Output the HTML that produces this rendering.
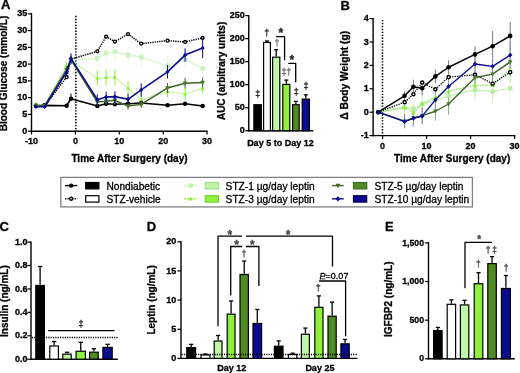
<!DOCTYPE html>
<html><head><meta charset="utf-8"><style>
html,body{margin:0;padding:0;background:#fff;}
body{width:520px;height:373px;overflow:hidden;}
svg{display:block;will-change:transform;font-family:"Liberation Sans",sans-serif;}
text{stroke-width:0.3px;stroke-linejoin:round;}
</style></head><body>
<svg width="520" height="373" viewBox="0 0 520 373">
<rect width="520" height="373" fill="#fff"/>
<text x="1.05" y="9.4" font-size="13" text-anchor="start" font-weight="bold" fill="#000" stroke="#000">A</text>
<text x="7" y="73.5" font-size="10" text-anchor="middle" font-weight="bold" fill="#000" stroke="#000" transform="rotate(-90 7 73.5)">Blood Glucose (mmol/L)</text>
<line x1="31.5" y1="13.11" x2="31.5" y2="131.9" stroke="#000" stroke-width="1.4" stroke-linecap="butt"/>
<line x1="30.8" y1="131.2" x2="207.7" y2="131.2" stroke="#000" stroke-width="1.4" stroke-linecap="butt"/>
<line x1="27.9" y1="131.2" x2="31.5" y2="131.2" stroke="#000" stroke-width="1.2" stroke-linecap="butt"/>
<text x="27.35" y="133.8" font-size="9" text-anchor="end" font-weight="bold" fill="#000" stroke="#000">0</text>
<line x1="27.9" y1="114.43" x2="31.5" y2="114.43" stroke="#000" stroke-width="1.2" stroke-linecap="butt"/>
<text x="27.35" y="117.03" font-size="9" text-anchor="end" font-weight="bold" fill="#000" stroke="#000">5</text>
<line x1="27.9" y1="97.66" x2="31.5" y2="97.66" stroke="#000" stroke-width="1.2" stroke-linecap="butt"/>
<text x="27.35" y="100.26" font-size="9" text-anchor="end" font-weight="bold" fill="#000" stroke="#000">10</text>
<line x1="27.9" y1="80.89" x2="31.5" y2="80.89" stroke="#000" stroke-width="1.2" stroke-linecap="butt"/>
<text x="27.35" y="83.49" font-size="9" text-anchor="end" font-weight="bold" fill="#000" stroke="#000">15</text>
<line x1="27.9" y1="64.12" x2="31.5" y2="64.12" stroke="#000" stroke-width="1.2" stroke-linecap="butt"/>
<text x="27.35" y="66.72" font-size="9" text-anchor="end" font-weight="bold" fill="#000" stroke="#000">20</text>
<line x1="27.9" y1="47.35" x2="31.5" y2="47.35" stroke="#000" stroke-width="1.2" stroke-linecap="butt"/>
<text x="27.35" y="49.95" font-size="9" text-anchor="end" font-weight="bold" fill="#000" stroke="#000">25</text>
<line x1="27.9" y1="30.58" x2="31.5" y2="30.58" stroke="#000" stroke-width="1.2" stroke-linecap="butt"/>
<text x="27.35" y="33.18" font-size="9" text-anchor="end" font-weight="bold" fill="#000" stroke="#000">30</text>
<line x1="27.9" y1="13.81" x2="31.5" y2="13.81" stroke="#000" stroke-width="1.2" stroke-linecap="butt"/>
<text x="27.35" y="16.41" font-size="9" text-anchor="end" font-weight="bold" fill="#000" stroke="#000">35</text>
<line x1="31.53" y1="131.2" x2="31.53" y2="134.5" stroke="#000" stroke-width="1.2" stroke-linecap="butt"/>
<text x="31.53" y="144.2" font-size="9" text-anchor="middle" font-weight="bold" fill="#000" stroke="#000">-10</text>
<line x1="75.4" y1="131.2" x2="75.4" y2="134.5" stroke="#000" stroke-width="1.2" stroke-linecap="butt"/>
<text x="75.4" y="144.2" font-size="9" text-anchor="middle" font-weight="bold" fill="#000" stroke="#000">0</text>
<line x1="119.28" y1="131.2" x2="119.28" y2="134.5" stroke="#000" stroke-width="1.2" stroke-linecap="butt"/>
<text x="119.28" y="144.2" font-size="9" text-anchor="middle" font-weight="bold" fill="#000" stroke="#000">10</text>
<line x1="163.15" y1="131.2" x2="163.15" y2="134.5" stroke="#000" stroke-width="1.2" stroke-linecap="butt"/>
<text x="163.15" y="144.2" font-size="9" text-anchor="middle" font-weight="bold" fill="#000" stroke="#000">20</text>
<line x1="207.03" y1="131.2" x2="207.03" y2="134.5" stroke="#000" stroke-width="1.2" stroke-linecap="butt"/>
<text x="207.03" y="144.2" font-size="9" text-anchor="middle" font-weight="bold" fill="#000" stroke="#000">30</text>
<text x="129.5" y="161.5" font-size="10" text-anchor="middle" font-weight="bold" fill="#000" stroke="#000">Time After Surgery (day)</text>
<line x1="75.85" y1="15.8" x2="75.85" y2="131.2" stroke="#000" stroke-width="1.6" stroke-linecap="butt" stroke-dasharray="1.4,1.55"/>
<line x1="35.91" y1="106.72" x2="35.91" y2="103.36" stroke="#e6f8de" stroke-width="1.0" stroke-linecap="butt"/>
<line x1="44.69" y1="107.05" x2="44.69" y2="103.7" stroke="#e6f8de" stroke-width="1.0" stroke-linecap="butt"/>
<line x1="66.62" y1="72.17" x2="66.62" y2="65.46" stroke="#e6f8de" stroke-width="1.0" stroke-linecap="butt"/>
<line x1="71.01" y1="64.12" x2="71.01" y2="56.07" stroke="#e6f8de" stroke-width="1.0" stroke-linecap="butt"/>
<line x1="97.34" y1="66.47" x2="97.34" y2="50.37" stroke="#e6f8de" stroke-width="1.0" stroke-linecap="butt"/>
<line x1="106.11" y1="61.77" x2="106.11" y2="44.33" stroke="#e6f8de" stroke-width="1.0" stroke-linecap="butt"/>
<line x1="114.89" y1="61.1" x2="114.89" y2="42.32" stroke="#e6f8de" stroke-width="1.0" stroke-linecap="butt"/>
<line x1="128.05" y1="63.45" x2="128.05" y2="46.68" stroke="#e6f8de" stroke-width="1.0" stroke-linecap="butt"/>
<line x1="141.21" y1="68.82" x2="141.21" y2="45.34" stroke="#e6f8de" stroke-width="1.0" stroke-linecap="butt"/>
<line x1="167.54" y1="75.86" x2="167.54" y2="55.73" stroke="#e6f8de" stroke-width="1.0" stroke-linecap="butt"/>
<line x1="185.09" y1="69.82" x2="185.09" y2="49.7" stroke="#e6f8de" stroke-width="1.0" stroke-linecap="butt"/>
<line x1="202.64" y1="77.2" x2="202.64" y2="59.76" stroke="#e6f8de" stroke-width="1.0" stroke-linecap="butt"/>
<polyline points="35.91,105.04 44.69,105.37 66.62,68.82 71.01,60.1 97.34,58.42 106.11,53.05 114.89,51.71 128.05,55.06 141.21,57.08 167.54,65.8 185.09,59.76 202.64,68.48" fill="none" stroke="#dcf5d0" stroke-width="1.4" stroke-linejoin="round"/>
<rect x="33.61" y="102.74" width="4.6" height="4.6" fill="#cdf0bc"/>
<rect x="42.39" y="103.07" width="4.6" height="4.6" fill="#cdf0bc"/>
<rect x="64.33" y="66.52" width="4.6" height="4.6" fill="#cdf0bc"/>
<rect x="68.71" y="57.8" width="4.6" height="4.6" fill="#cdf0bc"/>
<rect x="95.04" y="56.12" width="4.6" height="4.6" fill="#cdf0bc"/>
<rect x="103.81" y="50.75" width="4.6" height="4.6" fill="#cdf0bc"/>
<rect x="112.59" y="49.41" width="4.6" height="4.6" fill="#cdf0bc"/>
<rect x="125.75" y="52.76" width="4.6" height="4.6" fill="#cdf0bc"/>
<rect x="138.91" y="54.78" width="4.6" height="4.6" fill="#cdf0bc"/>
<rect x="165.24" y="63.5" width="4.6" height="4.6" fill="#cdf0bc"/>
<rect x="182.79" y="57.46" width="4.6" height="4.6" fill="#cdf0bc"/>
<rect x="200.34" y="66.18" width="4.6" height="4.6" fill="#cdf0bc"/>
<line x1="35.91" y1="106.04" x2="35.91" y2="102.69" stroke="#8ef23c" stroke-width="1.0" stroke-linecap="butt"/>
<line x1="44.69" y1="106.72" x2="44.69" y2="103.36" stroke="#8ef23c" stroke-width="1.0" stroke-linecap="butt"/>
<line x1="66.62" y1="68.82" x2="66.62" y2="62.11" stroke="#8ef23c" stroke-width="1.0" stroke-linecap="butt"/>
<line x1="71.01" y1="64.79" x2="71.01" y2="56.74" stroke="#8ef23c" stroke-width="1.0" stroke-linecap="butt"/>
<line x1="97.34" y1="85.59" x2="97.34" y2="70.83" stroke="#8ef23c" stroke-width="1.0" stroke-linecap="butt"/>
<line x1="106.11" y1="85.59" x2="106.11" y2="69.49" stroke="#8ef23c" stroke-width="1.0" stroke-linecap="butt"/>
<line x1="114.89" y1="85.59" x2="114.89" y2="68.82" stroke="#8ef23c" stroke-width="1.0" stroke-linecap="butt"/>
<line x1="128.05" y1="94.98" x2="128.05" y2="81.56" stroke="#8ef23c" stroke-width="1.0" stroke-linecap="butt"/>
<line x1="141.21" y1="106.38" x2="141.21" y2="92.96" stroke="#8ef23c" stroke-width="1.0" stroke-linecap="butt"/>
<line x1="167.54" y1="96.99" x2="167.54" y2="86.26" stroke="#8ef23c" stroke-width="1.0" stroke-linecap="butt"/>
<line x1="185.09" y1="100.01" x2="185.09" y2="87.93" stroke="#8ef23c" stroke-width="1.0" stroke-linecap="butt"/>
<line x1="202.64" y1="93.64" x2="202.64" y2="82.9" stroke="#8ef23c" stroke-width="1.0" stroke-linecap="butt"/>
<polyline points="35.91,104.37 44.69,105.04 66.62,65.46 71.01,60.77 97.34,78.21 106.11,77.54 114.89,77.2 128.05,88.27 141.21,99.67 167.54,91.62 185.09,93.97 202.64,88.27" fill="none" stroke="#bcec90" stroke-width="1.4" stroke-linejoin="round" stroke-dasharray="1.6,0.8"/>
<polygon points="35.91,102.09 33.82,105.89 38,105.89" fill="#8ef23c"/>
<polygon points="44.69,102.76 42.6,106.56 46.78,106.56" fill="#8ef23c"/>
<polygon points="66.62,63.18 64.53,66.98 68.72,66.98" fill="#8ef23c"/>
<polygon points="71.01,58.49 68.92,62.29 73.1,62.29" fill="#8ef23c"/>
<polygon points="97.34,75.93 95.25,79.73 99.43,79.73" fill="#8ef23c"/>
<polygon points="106.11,75.26 104.02,79.06 108.2,79.06" fill="#8ef23c"/>
<polygon points="114.89,74.92 112.8,78.72 116.98,78.72" fill="#8ef23c"/>
<polygon points="128.05,85.99 125.96,89.79 130.14,89.79" fill="#8ef23c"/>
<polygon points="141.21,97.39 139.12,101.19 143.3,101.19" fill="#8ef23c"/>
<polygon points="167.54,89.34 165.45,93.14 169.63,93.14" fill="#8ef23c"/>
<polygon points="185.09,91.69 183,95.49 187.18,95.49" fill="#8ef23c"/>
<polygon points="202.64,85.99 200.55,89.79 204.73,89.79" fill="#8ef23c"/>
<polyline points="35.91,106.04 44.69,106.04 66.62,77.2 71.01,59.09 97.34,51.37 106.11,36.62 114.89,41.65 128.05,34.1 141.21,43.66 167.54,40.64 185.09,41.98 202.64,37.96" fill="none" stroke="#000" stroke-width="1.5" stroke-linejoin="round" stroke-dasharray="1.3,1.0"/>
<circle cx="66.62" cy="77.2" r="1.46" fill="#fff" stroke="#000" stroke-width="1.33"/>
<circle cx="97.34" cy="51.37" r="1.46" fill="#fff" stroke="#000" stroke-width="1.33"/>
<circle cx="106.11" cy="36.62" r="1.46" fill="#fff" stroke="#000" stroke-width="1.33"/>
<circle cx="114.89" cy="41.65" r="1.46" fill="#fff" stroke="#000" stroke-width="1.33"/>
<circle cx="128.05" cy="34.1" r="1.46" fill="#fff" stroke="#000" stroke-width="1.33"/>
<circle cx="141.21" cy="43.66" r="1.46" fill="#fff" stroke="#000" stroke-width="1.33"/>
<circle cx="167.54" cy="40.64" r="1.46" fill="#fff" stroke="#000" stroke-width="1.33"/>
<circle cx="185.09" cy="41.98" r="1.46" fill="#fff" stroke="#000" stroke-width="1.33"/>
<circle cx="202.64" cy="37.96" r="1.46" fill="#fff" stroke="#000" stroke-width="1.33"/>
<polyline points="35.91,105.71 44.69,105.37 66.62,105.71 71.01,98.67 97.34,106.04 106.11,103.7 114.89,104.2 128.05,103.7 141.21,103.03 167.54,105.21 185.09,103.7 202.64,106.04" fill="none" stroke="#000" stroke-width="1.6" stroke-linejoin="round"/>
<line x1="71.01" y1="98.67" x2="71.01" y2="93.64" stroke="#000" stroke-width="1.0" stroke-linecap="butt"/>
<circle cx="35.91" cy="105.71" r="2.25" fill="#000"/>
<circle cx="44.69" cy="105.37" r="2.25" fill="#000"/>
<circle cx="66.62" cy="105.71" r="2.25" fill="#000"/>
<circle cx="71.01" cy="98.67" r="2.25" fill="#000"/>
<circle cx="97.34" cy="106.04" r="2.25" fill="#000"/>
<circle cx="106.11" cy="103.7" r="2.25" fill="#000"/>
<circle cx="114.89" cy="104.2" r="2.25" fill="#000"/>
<circle cx="128.05" cy="103.7" r="2.25" fill="#000"/>
<circle cx="141.21" cy="103.03" r="2.25" fill="#000"/>
<circle cx="167.54" cy="105.21" r="2.25" fill="#000"/>
<circle cx="185.09" cy="103.7" r="2.25" fill="#000"/>
<circle cx="202.64" cy="106.04" r="2.25" fill="#000"/>
<line x1="35.91" y1="107.05" x2="35.91" y2="104.37" stroke="#4d5e42" stroke-width="1.0" stroke-linecap="butt"/>
<line x1="44.69" y1="107.05" x2="44.69" y2="104.37" stroke="#4d5e42" stroke-width="1.0" stroke-linecap="butt"/>
<line x1="66.62" y1="72.84" x2="66.62" y2="66.13" stroke="#4d5e42" stroke-width="1.0" stroke-linecap="butt"/>
<line x1="71.01" y1="63.78" x2="71.01" y2="55.73" stroke="#4d5e42" stroke-width="1.0" stroke-linecap="butt"/>
<line x1="97.34" y1="105.37" x2="97.34" y2="98.67" stroke="#4d5e42" stroke-width="1.0" stroke-linecap="butt"/>
<line x1="106.11" y1="104.7" x2="106.11" y2="98" stroke="#4d5e42" stroke-width="1.0" stroke-linecap="butt"/>
<line x1="114.89" y1="104.37" x2="114.89" y2="96.32" stroke="#4d5e42" stroke-width="1.0" stroke-linecap="butt"/>
<line x1="128.05" y1="109.4" x2="128.05" y2="102.69" stroke="#4d5e42" stroke-width="1.0" stroke-linecap="butt"/>
<line x1="141.21" y1="107.72" x2="141.21" y2="101.01" stroke="#4d5e42" stroke-width="1.0" stroke-linecap="butt"/>
<line x1="167.54" y1="92.96" x2="167.54" y2="82.9" stroke="#4d5e42" stroke-width="1.0" stroke-linecap="butt"/>
<line x1="185.09" y1="88.6" x2="185.09" y2="77.87" stroke="#4d5e42" stroke-width="1.0" stroke-linecap="butt"/>
<line x1="202.64" y1="87.6" x2="202.64" y2="77.54" stroke="#4d5e42" stroke-width="1.0" stroke-linecap="butt"/>
<polyline points="35.91,105.71 44.69,105.71 66.62,69.49 71.01,59.76 97.34,102.02 106.11,101.35 114.89,100.34 128.05,106.04 141.21,104.37 167.54,87.93 185.09,83.24 202.64,82.57" fill="none" stroke="#3f6329" stroke-width="1.5" stroke-linejoin="round"/>
<polygon points="35.91,108.35 33.49,103.95 38.33,103.95" fill="#4a7a2a"/>
<polygon points="44.69,108.35 42.27,103.95 47.11,103.95" fill="#4a7a2a"/>
<polygon points="66.62,72.13 64.2,67.73 69.05,67.73" fill="#4a7a2a"/>
<polygon points="71.01,62.4 68.59,58 73.43,58" fill="#4a7a2a"/>
<polygon points="97.34,104.66 94.92,100.26 99.76,100.26" fill="#4a7a2a"/>
<polygon points="106.11,103.99 103.69,99.59 108.53,99.59" fill="#4a7a2a"/>
<polygon points="114.89,102.98 112.47,98.58 117.31,98.58" fill="#4a7a2a"/>
<polygon points="128.05,108.68 125.63,104.28 130.47,104.28" fill="#4a7a2a"/>
<polygon points="141.21,107.01 138.79,102.61 143.63,102.61" fill="#4a7a2a"/>
<polygon points="167.54,90.57 165.12,86.17 169.96,86.17" fill="#4a7a2a"/>
<polygon points="185.09,85.88 182.67,81.48 187.51,81.48" fill="#4a7a2a"/>
<polygon points="202.64,85.21 200.22,80.81 205.06,80.81" fill="#4a7a2a"/>
<line x1="35.91" y1="108.06" x2="35.91" y2="105.37" stroke="#0b0b8f" stroke-width="1.0" stroke-linecap="butt"/>
<line x1="44.69" y1="108.06" x2="44.69" y2="105.37" stroke="#0b0b8f" stroke-width="1.0" stroke-linecap="butt"/>
<line x1="66.62" y1="75.52" x2="66.62" y2="68.82" stroke="#0b0b8f" stroke-width="1.0" stroke-linecap="butt"/>
<line x1="71.01" y1="63.45" x2="71.01" y2="53.39" stroke="#0b0b8f" stroke-width="1.0" stroke-linecap="butt"/>
<line x1="97.34" y1="105.04" x2="97.34" y2="94.31" stroke="#0b0b8f" stroke-width="1.0" stroke-linecap="butt"/>
<line x1="106.11" y1="102.36" x2="106.11" y2="91.62" stroke="#0b0b8f" stroke-width="1.0" stroke-linecap="butt"/>
<line x1="114.89" y1="102.02" x2="114.89" y2="91.29" stroke="#0b0b8f" stroke-width="1.0" stroke-linecap="butt"/>
<line x1="128.05" y1="104.7" x2="128.05" y2="93.97" stroke="#0b0b8f" stroke-width="1.0" stroke-linecap="butt"/>
<line x1="141.21" y1="96.65" x2="141.21" y2="83.24" stroke="#0b0b8f" stroke-width="1.0" stroke-linecap="butt"/>
<line x1="167.54" y1="78.54" x2="167.54" y2="65.13" stroke="#0b0b8f" stroke-width="1.0" stroke-linecap="butt"/>
<line x1="185.09" y1="61.77" x2="185.09" y2="48.36" stroke="#0b0b8f" stroke-width="1.0" stroke-linecap="butt"/>
<line x1="202.64" y1="58.08" x2="202.64" y2="37.96" stroke="#0b0b8f" stroke-width="1.0" stroke-linecap="butt"/>
<polyline points="35.91,106.72 44.69,106.72 66.62,72.17 71.01,58.42 97.34,99.67 106.11,96.99 114.89,96.65 128.05,99.34 141.21,89.95 167.54,71.83 185.09,55.06 202.64,48.02" fill="none" stroke="#0b0b8f" stroke-width="1.6" stroke-linejoin="round"/>
<polygon points="35.91,104.44 38,106.72 35.91,109 33.82,106.72" fill="#0b0b8f"/>
<polygon points="44.69,104.44 46.78,106.72 44.69,109 42.6,106.72" fill="#0b0b8f"/>
<polygon points="66.62,69.89 68.72,72.17 66.62,74.45 64.53,72.17" fill="#0b0b8f"/>
<polygon points="71.01,56.14 73.1,58.42 71.01,60.7 68.92,58.42" fill="#0b0b8f"/>
<polygon points="97.34,97.39 99.43,99.67 97.34,101.95 95.25,99.67" fill="#0b0b8f"/>
<polygon points="106.11,94.71 108.2,96.99 106.11,99.27 104.02,96.99" fill="#0b0b8f"/>
<polygon points="114.89,94.37 116.98,96.65 114.89,98.93 112.8,96.65" fill="#0b0b8f"/>
<polygon points="128.05,97.06 130.14,99.34 128.05,101.62 125.96,99.34" fill="#0b0b8f"/>
<polygon points="141.21,87.67 143.3,89.95 141.21,92.23 139.12,89.95" fill="#0b0b8f"/>
<polygon points="167.54,69.55 169.63,71.83 167.54,74.11 165.45,71.83" fill="#0b0b8f"/>
<polygon points="185.09,52.78 187.18,55.06 185.09,57.34 183,55.06" fill="#0b0b8f"/>
<polygon points="202.64,45.74 204.73,48.02 202.64,50.3 200.55,48.02" fill="#0b0b8f"/>
<text x="225.2" y="70.9" font-size="10" text-anchor="middle" font-weight="bold" fill="#000" stroke="#000" transform="rotate(-90 225.2 70.9)">AUC (arbitrary units)</text>
<line x1="248.75" y1="14.9" x2="248.75" y2="131.45" stroke="#000" stroke-width="1.4" stroke-linecap="butt"/>
<line x1="248.05" y1="130.75" x2="313.3" y2="130.75" stroke="#000" stroke-width="1.4" stroke-linecap="butt"/>
<line x1="245.15" y1="130.75" x2="248.75" y2="130.75" stroke="#000" stroke-width="1.2" stroke-linecap="butt"/>
<text x="244.8" y="133.35" font-size="9" text-anchor="end" font-weight="bold" fill="#000" stroke="#000">0</text>
<line x1="245.15" y1="107.72" x2="248.75" y2="107.72" stroke="#000" stroke-width="1.2" stroke-linecap="butt"/>
<text x="244.8" y="110.32" font-size="9" text-anchor="end" font-weight="bold" fill="#000" stroke="#000">50</text>
<line x1="245.15" y1="84.69" x2="248.75" y2="84.69" stroke="#000" stroke-width="1.2" stroke-linecap="butt"/>
<text x="244.8" y="87.29" font-size="9" text-anchor="end" font-weight="bold" fill="#000" stroke="#000">100</text>
<line x1="245.15" y1="61.66" x2="248.75" y2="61.66" stroke="#000" stroke-width="1.2" stroke-linecap="butt"/>
<text x="244.8" y="64.26" font-size="9" text-anchor="end" font-weight="bold" fill="#000" stroke="#000">150</text>
<line x1="245.15" y1="38.63" x2="248.75" y2="38.63" stroke="#000" stroke-width="1.2" stroke-linecap="butt"/>
<text x="244.8" y="41.23" font-size="9" text-anchor="end" font-weight="bold" fill="#000" stroke="#000">200</text>
<line x1="245.15" y1="15.6" x2="248.75" y2="15.6" stroke="#000" stroke-width="1.2" stroke-linecap="butt"/>
<text x="244.8" y="18.2" font-size="9" text-anchor="end" font-weight="bold" fill="#000" stroke="#000">250</text>
<text x="280.4" y="145.5" font-size="9" text-anchor="middle" font-weight="bold" fill="#000" stroke="#000">Day 5 to Day 12</text>
<rect x="253.9" y="104.73" width="7.4" height="26.02" fill="#000" stroke="#000" stroke-width="1.2"/>
<line x1="267" y1="41.85" x2="267" y2="40.93" stroke="#000" stroke-width="1.3" stroke-linecap="butt"/>
<line x1="265" y1="40.93" x2="269" y2="40.93" stroke="#000" stroke-width="1.3" stroke-linecap="butt"/>
<rect x="263.6" y="42.45" width="6.8" height="88.3" fill="#fff" stroke="#000" stroke-width="1.2"/>
<line x1="276.2" y1="56.59" x2="276.2" y2="49.68" stroke="#000" stroke-width="1.3" stroke-linecap="butt"/>
<line x1="274.2" y1="49.68" x2="278.2" y2="49.68" stroke="#000" stroke-width="1.3" stroke-linecap="butt"/>
<rect x="272.6" y="57.19" width="7.2" height="73.56" fill="#c0f7a6" stroke="#000" stroke-width="1.2"/>
<line x1="286.3" y1="83.77" x2="286.3" y2="80.08" stroke="#000" stroke-width="1.3" stroke-linecap="butt"/>
<line x1="284.3" y1="80.08" x2="288.3" y2="80.08" stroke="#000" stroke-width="1.3" stroke-linecap="butt"/>
<rect x="282.8" y="84.37" width="7" height="46.38" fill="#8ef23c" stroke="#000" stroke-width="1.2"/>
<line x1="295.9" y1="104.13" x2="295.9" y2="101.36" stroke="#000" stroke-width="1.3" stroke-linecap="butt"/>
<line x1="293.9" y1="101.36" x2="297.9" y2="101.36" stroke="#000" stroke-width="1.3" stroke-linecap="butt"/>
<rect x="292.6" y="104.73" width="6.6" height="26.02" fill="#4f8a22" stroke="#000" stroke-width="1.2"/>
<line x1="305.8" y1="98.51" x2="305.8" y2="94.82" stroke="#000" stroke-width="1.3" stroke-linecap="butt"/>
<line x1="303.8" y1="94.82" x2="307.8" y2="94.82" stroke="#000" stroke-width="1.3" stroke-linecap="butt"/>
<rect x="302.2" y="99.11" width="7.2" height="31.64" fill="#0b0b8f" stroke="#000" stroke-width="1.2"/>
<text x="257.8" y="97.33" font-size="9" text-anchor="middle" font-weight="normal" fill="#222" stroke="#222">&#8225;</text>
<text x="266.8" y="35.52" font-size="9" text-anchor="middle" font-weight="normal" fill="#222" stroke="#222">&#8224;</text>
<text x="276.9" y="46.23" font-size="9" text-anchor="middle" font-weight="normal" fill="#777" stroke="#777">&#8224;</text>
<text x="284" y="74.73" font-size="9" text-anchor="middle" font-weight="normal" fill="#666" stroke="#666">&#8225;</text>
<text x="288.7" y="74.73" font-size="9" text-anchor="middle" font-weight="normal" fill="#666" stroke="#666">&#8224;</text>
<text x="296.2" y="95.23" font-size="9" text-anchor="middle" font-weight="normal" fill="#222" stroke="#222">&#8225;</text>
<text x="306.1" y="88.73" font-size="9" text-anchor="middle" font-weight="normal" fill="#222" stroke="#222">&#8225;</text>
<polyline points="276.1,36.6 284.6,36.6 284.6,60.2" fill="none" stroke="#000" stroke-width="1.3" stroke-linejoin="round"/>
<text x="280.8" y="36.52" font-size="12" text-anchor="middle" font-weight="bold" fill="#222" stroke="#222">*</text>
<polyline points="288.2,63.4 295.7,63.4 295.7,82.2" fill="none" stroke="#000" stroke-width="1.3" stroke-linejoin="round"/>
<text x="291.9" y="63.72" font-size="12" text-anchor="middle" font-weight="bold" fill="#222" stroke="#222">*</text>
<text x="340.4" y="9.8" font-size="13" text-anchor="start" font-weight="bold" fill="#000" stroke="#000">B</text>
<text x="348.5" y="75.3" font-size="10.3" text-anchor="middle" font-weight="bold" fill="#000" stroke="#000" transform="rotate(-90 348.5 75.3)">&#916; Body Weight (g)</text>
<line x1="373.1" y1="17.9" x2="373.1" y2="136.3" stroke="#000" stroke-width="1.4" stroke-linecap="butt"/>
<line x1="372.4" y1="135.6" x2="515.4" y2="135.6" stroke="#000" stroke-width="1.4" stroke-linecap="butt"/>
<line x1="369.5" y1="135.6" x2="373.1" y2="135.6" stroke="#000" stroke-width="1.2" stroke-linecap="butt"/>
<text x="368.8" y="138.2" font-size="9" text-anchor="end" font-weight="bold" fill="#000" stroke="#000">-1</text>
<line x1="369.5" y1="112.2" x2="373.1" y2="112.2" stroke="#000" stroke-width="1.2" stroke-linecap="butt"/>
<text x="368.8" y="114.8" font-size="9" text-anchor="end" font-weight="bold" fill="#000" stroke="#000">0</text>
<line x1="369.5" y1="88.8" x2="373.1" y2="88.8" stroke="#000" stroke-width="1.2" stroke-linecap="butt"/>
<text x="368.8" y="91.4" font-size="9" text-anchor="end" font-weight="bold" fill="#000" stroke="#000">1</text>
<line x1="369.5" y1="65.4" x2="373.1" y2="65.4" stroke="#000" stroke-width="1.2" stroke-linecap="butt"/>
<text x="368.8" y="68" font-size="9" text-anchor="end" font-weight="bold" fill="#000" stroke="#000">2</text>
<line x1="369.5" y1="42" x2="373.1" y2="42" stroke="#000" stroke-width="1.2" stroke-linecap="butt"/>
<text x="368.8" y="44.6" font-size="9" text-anchor="end" font-weight="bold" fill="#000" stroke="#000">3</text>
<line x1="369.5" y1="18.6" x2="373.1" y2="18.6" stroke="#000" stroke-width="1.2" stroke-linecap="butt"/>
<text x="368.8" y="21.2" font-size="9" text-anchor="end" font-weight="bold" fill="#000" stroke="#000">4</text>
<line x1="382.6" y1="135.6" x2="382.6" y2="138.9" stroke="#000" stroke-width="1.2" stroke-linecap="butt"/>
<text x="382.6" y="148.5" font-size="9" text-anchor="middle" font-weight="bold" fill="#000" stroke="#000">0</text>
<line x1="426.6" y1="135.6" x2="426.6" y2="138.9" stroke="#000" stroke-width="1.2" stroke-linecap="butt"/>
<text x="426.6" y="148.5" font-size="9" text-anchor="middle" font-weight="bold" fill="#000" stroke="#000">10</text>
<line x1="470.6" y1="135.6" x2="470.6" y2="138.9" stroke="#000" stroke-width="1.2" stroke-linecap="butt"/>
<text x="470.6" y="148.5" font-size="9" text-anchor="middle" font-weight="bold" fill="#000" stroke="#000">20</text>
<line x1="514.6" y1="135.6" x2="514.6" y2="138.9" stroke="#000" stroke-width="1.2" stroke-linecap="butt"/>
<text x="514.6" y="148.5" font-size="9" text-anchor="middle" font-weight="bold" fill="#000" stroke="#000">30</text>
<text x="452.2" y="162.3" font-size="10" text-anchor="middle" font-weight="bold" fill="#000" stroke="#000">Time After Surgery (day)</text>
<line x1="382.5" y1="19.9" x2="382.5" y2="135.6" stroke="#000" stroke-width="1.6" stroke-linecap="butt" stroke-dasharray="1.4,1.55"/>
<line x1="404.6" y1="114.54" x2="404.6" y2="100.5" stroke="#e6f8de" stroke-width="0.9" stroke-linecap="butt"/>
<line x1="413.4" y1="116.88" x2="413.4" y2="100.5" stroke="#e6f8de" stroke-width="0.9" stroke-linecap="butt"/>
<line x1="422.2" y1="112.2" x2="422.2" y2="95.82" stroke="#e6f8de" stroke-width="0.9" stroke-linecap="butt"/>
<line x1="435.4" y1="109.86" x2="435.4" y2="91.14" stroke="#e6f8de" stroke-width="0.9" stroke-linecap="butt"/>
<line x1="448.6" y1="106.35" x2="448.6" y2="85.29" stroke="#e6f8de" stroke-width="0.9" stroke-linecap="butt"/>
<line x1="475" y1="101.67" x2="475" y2="78.27" stroke="#e6f8de" stroke-width="0.9" stroke-linecap="butt"/>
<line x1="492.6" y1="104.48" x2="492.6" y2="78.74" stroke="#e6f8de" stroke-width="0.9" stroke-linecap="butt"/>
<line x1="510.2" y1="102.37" x2="510.2" y2="74.29" stroke="#e6f8de" stroke-width="0.9" stroke-linecap="butt"/>
<line x1="404.6" y1="114.54" x2="404.6" y2="100.5" stroke="#bfeea0" stroke-width="0.9" stroke-linecap="butt"/>
<line x1="413.4" y1="121.09" x2="413.4" y2="104.71" stroke="#bfeea0" stroke-width="0.9" stroke-linecap="butt"/>
<line x1="422.2" y1="111.97" x2="422.2" y2="95.59" stroke="#bfeea0" stroke-width="0.9" stroke-linecap="butt"/>
<line x1="435.4" y1="106.35" x2="435.4" y2="87.63" stroke="#bfeea0" stroke-width="0.9" stroke-linecap="butt"/>
<line x1="448.6" y1="101.67" x2="448.6" y2="80.61" stroke="#bfeea0" stroke-width="0.9" stroke-linecap="butt"/>
<line x1="475" y1="96.99" x2="475" y2="73.59" stroke="#bfeea0" stroke-width="0.9" stroke-linecap="butt"/>
<line x1="492.6" y1="98.16" x2="492.6" y2="72.42" stroke="#bfeea0" stroke-width="0.9" stroke-linecap="butt"/>
<line x1="510.2" y1="83.42" x2="510.2" y2="55.34" stroke="#bfeea0" stroke-width="0.9" stroke-linecap="butt"/>
<line x1="404.6" y1="128.11" x2="404.6" y2="114.07" stroke="#7c9868" stroke-width="0.9" stroke-linecap="butt"/>
<line x1="413.4" y1="126.24" x2="413.4" y2="109.86" stroke="#7c9868" stroke-width="0.9" stroke-linecap="butt"/>
<line x1="422.2" y1="123.9" x2="422.2" y2="107.52" stroke="#7c9868" stroke-width="0.9" stroke-linecap="butt"/>
<line x1="435.4" y1="120.62" x2="435.4" y2="101.9" stroke="#7c9868" stroke-width="0.9" stroke-linecap="butt"/>
<line x1="448.6" y1="114.54" x2="448.6" y2="93.48" stroke="#7c9868" stroke-width="0.9" stroke-linecap="butt"/>
<line x1="475" y1="89.5" x2="475" y2="66.1" stroke="#7c9868" stroke-width="0.9" stroke-linecap="butt"/>
<line x1="492.6" y1="86.93" x2="492.6" y2="61.19" stroke="#7c9868" stroke-width="0.9" stroke-linecap="butt"/>
<line x1="510.2" y1="75.93" x2="510.2" y2="47.85" stroke="#7c9868" stroke-width="0.9" stroke-linecap="butt"/>
<line x1="404.6" y1="100.5" x2="404.6" y2="91.14" stroke="#6a6a6a" stroke-width="0.9" stroke-linecap="butt"/>
<line x1="413.4" y1="93.71" x2="413.4" y2="79.67" stroke="#6a6a6a" stroke-width="0.9" stroke-linecap="butt"/>
<line x1="422.2" y1="95.35" x2="422.2" y2="81.31" stroke="#6a6a6a" stroke-width="0.9" stroke-linecap="butt"/>
<line x1="435.4" y1="83.42" x2="435.4" y2="69.38" stroke="#6a6a6a" stroke-width="0.9" stroke-linecap="butt"/>
<line x1="448.6" y1="74.29" x2="448.6" y2="60.25" stroke="#6a6a6a" stroke-width="0.9" stroke-linecap="butt"/>
<line x1="475" y1="62.59" x2="475" y2="46.21" stroke="#6a6a6a" stroke-width="0.9" stroke-linecap="butt"/>
<line x1="492.6" y1="61.42" x2="492.6" y2="31" stroke="#6a6a6a" stroke-width="0.9" stroke-linecap="butt"/>
<line x1="510.2" y1="49.96" x2="510.2" y2="21.88" stroke="#6a6a6a" stroke-width="0.9" stroke-linecap="butt"/>
<line x1="404.6" y1="128.58" x2="404.6" y2="114.54" stroke="#8a8ac8" stroke-width="0.9" stroke-linecap="butt"/>
<line x1="413.4" y1="126.47" x2="413.4" y2="110.09" stroke="#8a8ac8" stroke-width="0.9" stroke-linecap="butt"/>
<line x1="422.2" y1="124.37" x2="422.2" y2="107.99" stroke="#8a8ac8" stroke-width="0.9" stroke-linecap="butt"/>
<line x1="435.4" y1="109.16" x2="435.4" y2="90.44" stroke="#8a8ac8" stroke-width="0.9" stroke-linecap="butt"/>
<line x1="448.6" y1="96.99" x2="448.6" y2="75.93" stroke="#8a8ac8" stroke-width="0.9" stroke-linecap="butt"/>
<line x1="475" y1="75.7" x2="475" y2="52.3" stroke="#8a8ac8" stroke-width="0.9" stroke-linecap="butt"/>
<line x1="492.6" y1="79.21" x2="492.6" y2="53.47" stroke="#8a8ac8" stroke-width="0.9" stroke-linecap="butt"/>
<line x1="510.2" y1="69.14" x2="510.2" y2="41.06" stroke="#8a8ac8" stroke-width="0.9" stroke-linecap="butt"/>
<polyline points="378.2,112.2 404.6,107.52 413.4,108.69 422.2,104.01 435.4,100.5 448.6,95.82 475,89.97 492.6,91.61 510.2,88.33" fill="none" stroke="#c8f0b4" stroke-width="1.4" stroke-linejoin="round"/>
<rect x="376.1" y="110.1" width="4.2" height="4.2" fill="#b8ec9e"/>
<rect x="402.5" y="105.42" width="4.2" height="4.2" fill="#b8ec9e"/>
<rect x="411.3" y="106.59" width="4.2" height="4.2" fill="#b8ec9e"/>
<rect x="420.1" y="101.91" width="4.2" height="4.2" fill="#b8ec9e"/>
<rect x="433.3" y="98.4" width="4.2" height="4.2" fill="#b8ec9e"/>
<rect x="446.5" y="93.72" width="4.2" height="4.2" fill="#b8ec9e"/>
<rect x="472.9" y="87.87" width="4.2" height="4.2" fill="#b8ec9e"/>
<rect x="490.5" y="89.51" width="4.2" height="4.2" fill="#b8ec9e"/>
<rect x="508.1" y="86.23" width="4.2" height="4.2" fill="#b8ec9e"/>
<polyline points="378.2,112.2 404.6,107.52 413.4,112.9 422.2,103.78 435.4,96.99 448.6,91.14 475,85.29 492.6,85.29 510.2,69.38" fill="none" stroke="#a4e872" stroke-width="1.3" stroke-linejoin="round" stroke-dasharray="1.6,0.8"/>
<polygon points="378.2,109.8 376,113.8 380.4,113.8" fill="#8ef23c"/>
<polygon points="404.6,105.12 402.4,109.12 406.8,109.12" fill="#8ef23c"/>
<polygon points="413.4,110.5 411.2,114.5 415.6,114.5" fill="#8ef23c"/>
<polygon points="422.2,101.38 420,105.38 424.4,105.38" fill="#8ef23c"/>
<polygon points="435.4,94.59 433.2,98.59 437.6,98.59" fill="#8ef23c"/>
<polygon points="448.6,88.74 446.4,92.74 450.8,92.74" fill="#8ef23c"/>
<polygon points="475,82.89 472.8,86.89 477.2,86.89" fill="#8ef23c"/>
<polygon points="492.6,82.89 490.4,86.89 494.8,86.89" fill="#8ef23c"/>
<polygon points="510.2,66.98 508,70.98 512.4,70.98" fill="#8ef23c"/>
<polyline points="378.2,112.2 404.6,102.14 413.4,94.18 422.2,82.48 435.4,89.27 448.6,77.1 475,74.76 492.6,83.65 510.2,72.19" fill="none" stroke="#000" stroke-width="1.3" stroke-linejoin="round" stroke-dasharray="1.3,1.1"/>
<circle cx="404.6" cy="102.14" r="1.56" fill="#fff" stroke="#000" stroke-width="1.43"/>
<circle cx="413.4" cy="94.18" r="1.56" fill="#fff" stroke="#000" stroke-width="1.43"/>
<circle cx="422.2" cy="82.48" r="1.56" fill="#fff" stroke="#000" stroke-width="1.43"/>
<circle cx="435.4" cy="89.27" r="1.56" fill="#fff" stroke="#000" stroke-width="1.43"/>
<circle cx="448.6" cy="77.1" r="1.56" fill="#fff" stroke="#000" stroke-width="1.43"/>
<circle cx="475" cy="74.76" r="1.56" fill="#fff" stroke="#000" stroke-width="1.43"/>
<circle cx="492.6" cy="83.65" r="1.56" fill="#fff" stroke="#000" stroke-width="1.43"/>
<circle cx="510.2" cy="72.19" r="1.56" fill="#fff" stroke="#000" stroke-width="1.43"/>
<polyline points="378.2,112.2 404.6,121.09 413.4,118.05 422.2,115.71 435.4,111.26 448.6,104.01 475,77.8 492.6,74.06 510.2,61.89" fill="none" stroke="#3f6329" stroke-width="1.4" stroke-linejoin="round"/>
<polygon points="378.2,114.72 375.89,110.52 380.51,110.52" fill="#4a7a2a"/>
<polygon points="404.6,123.61 402.29,119.41 406.91,119.41" fill="#4a7a2a"/>
<polygon points="413.4,120.57 411.09,116.37 415.71,116.37" fill="#4a7a2a"/>
<polygon points="422.2,118.23 419.89,114.03 424.51,114.03" fill="#4a7a2a"/>
<polygon points="435.4,113.78 433.09,109.58 437.71,109.58" fill="#4a7a2a"/>
<polygon points="448.6,106.53 446.29,102.33 450.91,102.33" fill="#4a7a2a"/>
<polygon points="475,80.32 472.69,76.12 477.31,76.12" fill="#4a7a2a"/>
<polygon points="492.6,76.58 490.29,72.38 494.91,72.38" fill="#4a7a2a"/>
<polygon points="510.2,64.41 507.89,60.21 512.51,60.21" fill="#4a7a2a"/>
<polyline points="378.2,112.2 404.6,95.82 413.4,86.69 422.2,88.33 435.4,76.4 448.6,67.27 475,54.4 492.6,46.21 510.2,35.92" fill="none" stroke="#000" stroke-width="1.45" stroke-linejoin="round"/>
<circle cx="378.2" cy="112.2" r="2.3" fill="#000"/>
<circle cx="404.6" cy="95.82" r="2.3" fill="#000"/>
<circle cx="413.4" cy="86.69" r="2.3" fill="#000"/>
<circle cx="422.2" cy="88.33" r="2.3" fill="#000"/>
<circle cx="435.4" cy="76.4" r="2.3" fill="#000"/>
<circle cx="448.6" cy="67.27" r="2.3" fill="#000"/>
<circle cx="475" cy="54.4" r="2.3" fill="#000"/>
<circle cx="492.6" cy="46.21" r="2.3" fill="#000"/>
<circle cx="510.2" cy="35.92" r="2.3" fill="#000"/>
<polyline points="378.2,112.2 404.6,121.56 413.4,118.28 422.2,116.18 435.4,99.8 448.6,86.46 475,64 492.6,66.34 510.2,55.1" fill="none" stroke="#0b0b8f" stroke-width="1.35" stroke-linejoin="round"/>
<polygon points="378.2,109.8 380.4,112.2 378.2,114.6 376,112.2" fill="#0b0b8f"/>
<polygon points="404.6,119.16 406.8,121.56 404.6,123.96 402.4,121.56" fill="#0b0b8f"/>
<polygon points="413.4,115.88 415.6,118.28 413.4,120.68 411.2,118.28" fill="#0b0b8f"/>
<polygon points="422.2,113.78 424.4,116.18 422.2,118.58 420,116.18" fill="#0b0b8f"/>
<polygon points="435.4,97.4 437.6,99.8 435.4,102.2 433.2,99.8" fill="#0b0b8f"/>
<polygon points="448.6,84.06 450.8,86.46 448.6,88.86 446.4,86.46" fill="#0b0b8f"/>
<polygon points="475,61.6 477.2,64 475,66.4 472.8,64" fill="#0b0b8f"/>
<polygon points="492.6,63.94 494.8,66.34 492.6,68.74 490.4,66.34" fill="#0b0b8f"/>
<polygon points="510.2,52.7 512.4,55.1 510.2,57.5 508,55.1" fill="#0b0b8f"/>
<rect x="60.8" y="177.4" width="411.6" height="29.5" fill="#fff" stroke="#808080" stroke-width="1.3"/>
<line x1="65" y1="185.6" x2="77.3" y2="185.6" stroke="#000" stroke-width="1.4" stroke-linecap="butt"/>
<circle cx="71.15" cy="185.6" r="2.2" fill="#000"/>
<rect x="85.7" y="182.5" width="13.2" height="6.4" fill="#000" stroke="#000" stroke-width="1.2"/>
<text x="106.4" y="189.7" font-size="10.2" text-anchor="start" font-weight="normal" fill="#000" stroke="#000">Nondiabetic</text>
<line x1="65" y1="198.8" x2="77.3" y2="198.8" stroke="#000" stroke-width="1.4" stroke-linecap="butt" stroke-dasharray="1.3,1.1"/>
<circle cx="71.15" cy="198.8" r="1.5" fill="#fff" stroke="#000" stroke-width="1.36"/>
<rect x="85.7" y="195.7" width="13.2" height="6.4" fill="#fff" stroke="#000" stroke-width="1.2"/>
<text x="106.4" y="202.9" font-size="10.2" text-anchor="start" font-weight="normal" fill="#000" stroke="#000">STZ-vehicle</text>
<line x1="184" y1="185.6" x2="197.3" y2="185.6" stroke="#c0f7a6" stroke-width="1.4" stroke-linecap="butt" stroke-dasharray="2.5,1.2"/>
<rect x="188.45" y="183.4" width="4.4" height="4.4" fill="#c0f7a6"/>
<rect x="205.3" y="182.5" width="13.2" height="6.4" fill="#c0f7a6" stroke="#9ee084" stroke-width="1.2"/>
<text x="225.6" y="189.7" font-size="10.2" text-anchor="start" font-weight="normal" fill="#000" stroke="#000">STZ-1 &#181;g/day leptin</text>
<line x1="184" y1="198.8" x2="197.3" y2="198.8" stroke="#8ef23c" stroke-width="1.4" stroke-linecap="butt" stroke-dasharray="2,1.2"/>
<polygon points="190.65,196.16 188.23,200.56 193.07,200.56" fill="#8ef23c"/>
<rect x="205.3" y="195.7" width="13.2" height="6.4" fill="#8ef23c" stroke="#70d830" stroke-width="1.2"/>
<text x="225.6" y="202.9" font-size="10.2" text-anchor="start" font-weight="normal" fill="#000" stroke="#000">STZ-3 &#181;g/day leptin</text>
<line x1="332.1" y1="185.6" x2="343.7" y2="185.6" stroke="#3f6329" stroke-width="1.4" stroke-linecap="butt"/>
<polygon points="337.9,188.24 335.48,183.84 340.32,183.84" fill="#3f6329"/>
<rect x="353.5" y="182.5" width="13.2" height="6.4" fill="#4f8a22" stroke="#3a6a20" stroke-width="1.2"/>
<text x="374.4" y="189.7" font-size="10.2" text-anchor="start" font-weight="normal" fill="#000" stroke="#000">STZ-5 &#181;g/day leptin</text>
<line x1="332.1" y1="198.8" x2="343.7" y2="198.8" stroke="#0b0b8f" stroke-width="1.4" stroke-linecap="butt"/>
<polygon points="337.9,196.16 340.32,198.8 337.9,201.44 335.48,198.8" fill="#0b0b8f"/>
<rect x="353.5" y="195.7" width="13.2" height="6.4" fill="#0b0b8f" stroke="#000050" stroke-width="1.2"/>
<text x="374.4" y="202.9" font-size="10.2" text-anchor="start" font-weight="normal" fill="#000" stroke="#000">STZ-10 &#181;g/day leptin</text>
<text x="-0.4" y="230.8" font-size="13" text-anchor="start" font-weight="bold" fill="#000" stroke="#000">C</text>
<text x="7.9" y="301.1" font-size="10" text-anchor="middle" font-weight="bold" fill="#000" stroke="#000" transform="rotate(-90 7.9 301.1)">Insulin (ng/mL)</text>
<line x1="31" y1="241.4" x2="31" y2="359.9" stroke="#000" stroke-width="1.4" stroke-linecap="butt"/>
<line x1="30.3" y1="359.2" x2="117.9" y2="359.2" stroke="#000" stroke-width="1.4" stroke-linecap="butt"/>
<line x1="27.4" y1="359.2" x2="31" y2="359.2" stroke="#000" stroke-width="1.2" stroke-linecap="butt"/>
<text x="27.4" y="361.8" font-size="9" text-anchor="end" font-weight="bold" fill="#000" stroke="#000">0.0</text>
<line x1="27.4" y1="335.78" x2="31" y2="335.78" stroke="#000" stroke-width="1.2" stroke-linecap="butt"/>
<text x="27.4" y="338.38" font-size="9" text-anchor="end" font-weight="bold" fill="#000" stroke="#000">0.2</text>
<line x1="27.4" y1="312.36" x2="31" y2="312.36" stroke="#000" stroke-width="1.2" stroke-linecap="butt"/>
<text x="27.4" y="314.96" font-size="9" text-anchor="end" font-weight="bold" fill="#000" stroke="#000">0.4</text>
<line x1="27.4" y1="288.94" x2="31" y2="288.94" stroke="#000" stroke-width="1.2" stroke-linecap="butt"/>
<text x="27.4" y="291.54" font-size="9" text-anchor="end" font-weight="bold" fill="#000" stroke="#000">0.6</text>
<line x1="27.4" y1="265.52" x2="31" y2="265.52" stroke="#000" stroke-width="1.2" stroke-linecap="butt"/>
<text x="27.4" y="268.12" font-size="9" text-anchor="end" font-weight="bold" fill="#000" stroke="#000">0.8</text>
<line x1="27.4" y1="242.1" x2="31" y2="242.1" stroke="#000" stroke-width="1.2" stroke-linecap="butt"/>
<text x="27.4" y="244.7" font-size="9" text-anchor="end" font-weight="bold" fill="#000" stroke="#000">1.0</text>
<line x1="40.1" y1="284.84" x2="40.1" y2="266.46" stroke="#000" stroke-width="1.3" stroke-linecap="butt"/>
<line x1="37.9" y1="266.46" x2="42.3" y2="266.46" stroke="#000" stroke-width="1.3" stroke-linecap="butt"/>
<rect x="35.8" y="285.44" width="8.6" height="73.76" fill="#000" stroke="#000" stroke-width="1.2"/>
<line x1="54.1" y1="345.38" x2="54.1" y2="341.52" stroke="#000" stroke-width="1.3" stroke-linecap="butt"/>
<line x1="51.9" y1="341.52" x2="56.3" y2="341.52" stroke="#000" stroke-width="1.3" stroke-linecap="butt"/>
<rect x="49.8" y="345.98" width="8.6" height="13.22" fill="#fff" stroke="#000" stroke-width="1.2"/>
<line x1="67" y1="353.58" x2="67" y2="352.29" stroke="#000" stroke-width="1.3" stroke-linecap="butt"/>
<line x1="64.8" y1="352.29" x2="69.2" y2="352.29" stroke="#000" stroke-width="1.3" stroke-linecap="butt"/>
<rect x="62.8" y="354.18" width="8.4" height="5.02" fill="#c0f7a6" stroke="#000" stroke-width="1.2"/>
<line x1="80.75" y1="350.65" x2="80.75" y2="342.34" stroke="#000" stroke-width="1.3" stroke-linecap="butt"/>
<line x1="78.55" y1="342.34" x2="82.95" y2="342.34" stroke="#000" stroke-width="1.3" stroke-linecap="butt"/>
<rect x="76.1" y="351.25" width="9.3" height="7.95" fill="#8ef23c" stroke="#000" stroke-width="1.2"/>
<line x1="93.9" y1="351.59" x2="93.9" y2="348.66" stroke="#000" stroke-width="1.3" stroke-linecap="butt"/>
<line x1="91.7" y1="348.66" x2="96.1" y2="348.66" stroke="#000" stroke-width="1.3" stroke-linecap="butt"/>
<rect x="89.6" y="352.19" width="8.6" height="7.01" fill="#4f8a22" stroke="#000" stroke-width="1.2"/>
<line x1="107.55" y1="346.79" x2="107.55" y2="344.33" stroke="#000" stroke-width="1.3" stroke-linecap="butt"/>
<line x1="105.35" y1="344.33" x2="109.75" y2="344.33" stroke="#000" stroke-width="1.3" stroke-linecap="butt"/>
<rect x="102.9" y="347.39" width="9.3" height="11.81" fill="#0b0b8f" stroke="#000" stroke-width="1.2"/>
<line x1="48.2" y1="330.7" x2="114.5" y2="330.7" stroke="#000" stroke-width="1.2" stroke-linecap="butt"/>
<line x1="31.8" y1="337.5" x2="118.3" y2="337.5" stroke="#000" stroke-width="1.5" stroke-linecap="butt" stroke-dasharray="1.2,1.15"/>
<text x="81" y="327.22" font-size="9" text-anchor="middle" font-weight="normal" fill="#222" stroke="#222">&#8225;</text>
<text x="146.7" y="230.8" font-size="13" text-anchor="start" font-weight="bold" fill="#000" stroke="#000">D</text>
<text x="154.8" y="299.9" font-size="10" text-anchor="middle" font-weight="bold" fill="#000" stroke="#000" transform="rotate(-90 154.8 299.9)">Leptin (ng/mL)</text>
<line x1="181" y1="241.1" x2="181" y2="359.1" stroke="#000" stroke-width="1.4" stroke-linecap="butt"/>
<line x1="180.3" y1="358.4" x2="357.4" y2="358.4" stroke="#000" stroke-width="1.4" stroke-linecap="butt"/>
<line x1="177.4" y1="358.4" x2="181" y2="358.4" stroke="#000" stroke-width="1.2" stroke-linecap="butt"/>
<text x="176.2" y="361" font-size="9" text-anchor="end" font-weight="bold" fill="#000" stroke="#000">0</text>
<line x1="177.4" y1="329.25" x2="181" y2="329.25" stroke="#000" stroke-width="1.2" stroke-linecap="butt"/>
<text x="176.2" y="331.85" font-size="9" text-anchor="end" font-weight="bold" fill="#000" stroke="#000">5</text>
<line x1="177.4" y1="300.1" x2="181" y2="300.1" stroke="#000" stroke-width="1.2" stroke-linecap="butt"/>
<text x="176.2" y="302.7" font-size="9" text-anchor="end" font-weight="bold" fill="#000" stroke="#000">10</text>
<line x1="177.4" y1="270.95" x2="181" y2="270.95" stroke="#000" stroke-width="1.2" stroke-linecap="butt"/>
<text x="176.2" y="273.55" font-size="9" text-anchor="end" font-weight="bold" fill="#000" stroke="#000">15</text>
<line x1="177.4" y1="241.8" x2="181" y2="241.8" stroke="#000" stroke-width="1.2" stroke-linecap="butt"/>
<text x="176.2" y="244.4" font-size="9" text-anchor="end" font-weight="bold" fill="#000" stroke="#000">20</text>
<line x1="191.2" y1="346.97" x2="191.2" y2="344.35" stroke="#000" stroke-width="1.3" stroke-linecap="butt"/>
<line x1="189.1" y1="344.35" x2="193.3" y2="344.35" stroke="#000" stroke-width="1.3" stroke-linecap="butt"/>
<rect x="186.8" y="347.57" width="8.8" height="10.83" fill="#000" stroke="#000" stroke-width="1.2"/>
<line x1="205.5" y1="354.32" x2="205.5" y2="354.03" stroke="#000" stroke-width="1.3" stroke-linecap="butt"/>
<line x1="203.4" y1="354.03" x2="207.6" y2="354.03" stroke="#000" stroke-width="1.3" stroke-linecap="butt"/>
<rect x="201" y="354.92" width="9" height="3.48" fill="#fff" stroke="#000" stroke-width="1.2"/>
<line x1="218.1" y1="340.44" x2="218.1" y2="335.49" stroke="#000" stroke-width="1.3" stroke-linecap="butt"/>
<line x1="216" y1="335.49" x2="220.2" y2="335.49" stroke="#000" stroke-width="1.3" stroke-linecap="butt"/>
<rect x="214.2" y="341.04" width="7.8" height="17.36" fill="#c0f7a6" stroke="#000" stroke-width="1.2"/>
<line x1="231.1" y1="313.51" x2="231.1" y2="300.97" stroke="#000" stroke-width="1.3" stroke-linecap="butt"/>
<line x1="229" y1="300.97" x2="233.2" y2="300.97" stroke="#000" stroke-width="1.3" stroke-linecap="butt"/>
<rect x="227.2" y="314.11" width="7.8" height="44.29" fill="#8ef23c" stroke="#000" stroke-width="1.2"/>
<line x1="244.2" y1="273.87" x2="244.2" y2="261.04" stroke="#000" stroke-width="1.3" stroke-linecap="butt"/>
<line x1="242.1" y1="261.04" x2="246.3" y2="261.04" stroke="#000" stroke-width="1.3" stroke-linecap="butt"/>
<rect x="240" y="274.47" width="8.4" height="83.93" fill="#4f8a22" stroke="#000" stroke-width="1.2"/>
<line x1="257.3" y1="322.84" x2="257.3" y2="309.43" stroke="#000" stroke-width="1.3" stroke-linecap="butt"/>
<line x1="255.2" y1="309.43" x2="259.4" y2="309.43" stroke="#000" stroke-width="1.3" stroke-linecap="butt"/>
<rect x="253" y="323.44" width="8.6" height="34.96" fill="#0b0b8f" stroke="#000" stroke-width="1.2"/>
<line x1="278.7" y1="345.57" x2="278.7" y2="340.91" stroke="#000" stroke-width="1.3" stroke-linecap="butt"/>
<line x1="276.6" y1="340.91" x2="280.8" y2="340.91" stroke="#000" stroke-width="1.3" stroke-linecap="butt"/>
<rect x="274.4" y="346.17" width="8.6" height="12.23" fill="#000" stroke="#000" stroke-width="1.2"/>
<line x1="292.6" y1="353.85" x2="292.6" y2="353.15" stroke="#000" stroke-width="1.3" stroke-linecap="butt"/>
<line x1="290.5" y1="353.15" x2="294.7" y2="353.15" stroke="#000" stroke-width="1.3" stroke-linecap="butt"/>
<rect x="288.4" y="354.45" width="8.4" height="3.95" fill="#fff" stroke="#000" stroke-width="1.2"/>
<line x1="305.4" y1="333.62" x2="305.4" y2="328.08" stroke="#000" stroke-width="1.3" stroke-linecap="butt"/>
<line x1="303.3" y1="328.08" x2="307.5" y2="328.08" stroke="#000" stroke-width="1.3" stroke-linecap="butt"/>
<rect x="301.4" y="334.22" width="8" height="24.18" fill="#c0f7a6" stroke="#000" stroke-width="1.2"/>
<line x1="318.9" y1="306.69" x2="318.9" y2="295.9" stroke="#000" stroke-width="1.3" stroke-linecap="butt"/>
<line x1="316.8" y1="295.9" x2="321" y2="295.9" stroke="#000" stroke-width="1.3" stroke-linecap="butt"/>
<rect x="314.8" y="307.29" width="8.2" height="51.11" fill="#8ef23c" stroke="#000" stroke-width="1.2"/>
<line x1="332.1" y1="315.55" x2="332.1" y2="302.14" stroke="#000" stroke-width="1.3" stroke-linecap="butt"/>
<line x1="330" y1="302.14" x2="334.2" y2="302.14" stroke="#000" stroke-width="1.3" stroke-linecap="butt"/>
<rect x="328" y="316.15" width="8.2" height="42.25" fill="#4f8a22" stroke="#000" stroke-width="1.2"/>
<line x1="345.05" y1="343.24" x2="345.05" y2="339.45" stroke="#000" stroke-width="1.3" stroke-linecap="butt"/>
<line x1="342.95" y1="339.45" x2="347.15" y2="339.45" stroke="#000" stroke-width="1.3" stroke-linecap="butt"/>
<rect x="340.9" y="343.84" width="8.3" height="14.56" fill="#0b0b8f" stroke="#000" stroke-width="1.2"/>
<line x1="181.6" y1="354.4" x2="357.5" y2="354.4" stroke="#000" stroke-width="1.5" stroke-linecap="butt" stroke-dasharray="1.2,1.15"/>
<text x="231.8" y="370.7" font-size="9" text-anchor="middle" font-weight="bold" fill="#000" stroke="#000">Day 12</text>
<text x="319.9" y="370.7" font-size="9" text-anchor="middle" font-weight="bold" fill="#000" stroke="#000">Day 25</text>
<polyline points="218,326.3 218,236.1 242,236.1" fill="none" stroke="#000" stroke-width="1.3" stroke-linejoin="round"/>
<polyline points="245.9,236.1 332.5,236.1 332.5,266.6" fill="none" stroke="#000" stroke-width="1.3" stroke-linejoin="round"/>
<text x="229.9" y="239.02" font-size="12" text-anchor="middle" font-weight="bold" fill="#444" stroke="#444">*</text>
<text x="288.1" y="239.02" font-size="12" text-anchor="middle" font-weight="bold" fill="#444" stroke="#444">*</text>
<polyline points="230.7,295.6 230.7,246.5 242.2,246.5" fill="none" stroke="#000" stroke-width="1.3" stroke-linejoin="round"/>
<polyline points="245.9,246.5 258.9,246.5 258.9,286.1" fill="none" stroke="#000" stroke-width="1.3" stroke-linejoin="round"/>
<text x="236.7" y="248.62" font-size="12" text-anchor="middle" font-weight="bold" fill="#444" stroke="#444">*</text>
<text x="252.4" y="248.62" font-size="12" text-anchor="middle" font-weight="bold" fill="#444" stroke="#444">*</text>
<text x="244.1" y="257.43" font-size="9" text-anchor="middle" font-weight="normal" fill="#555" stroke="#555">&#8224;</text>
<text x="318.3" y="291.42" font-size="9" text-anchor="middle" font-weight="normal" fill="#333" stroke="#333">&#8224;</text>
<polyline points="319.1,281 345.6,281 345.6,336.2" fill="none" stroke="#000" stroke-width="1.3" stroke-linejoin="round"/>
<text x="319.6" y="278.8" font-size="9" font-weight="normal" fill="#000" stroke="#000"><tspan font-style="italic">P</tspan>=0.07</text>
<line x1="320" y1="278.9" x2="325.4" y2="278.9" stroke="#000" stroke-width="0.8" stroke-linecap="butt"/>
<text x="384.9" y="230.8" font-size="13" text-anchor="start" font-weight="bold" fill="#000" stroke="#000">E</text>
<text x="392" y="299.25" font-size="10" text-anchor="middle" font-weight="bold" fill="#000" stroke="#000" transform="rotate(-90 392 299.25)">IGFBP2 (ng/mL)</text>
<line x1="428.5" y1="242.2" x2="428.5" y2="359.5" stroke="#000" stroke-width="1.4" stroke-linecap="butt"/>
<line x1="427.8" y1="358.8" x2="514.8" y2="358.8" stroke="#000" stroke-width="1.4" stroke-linecap="butt"/>
<line x1="424.9" y1="358.8" x2="428.5" y2="358.8" stroke="#000" stroke-width="1.2" stroke-linecap="butt"/>
<text x="424" y="361.4" font-size="8.7" text-anchor="end" font-weight="bold" fill="#000" stroke="#000">0</text>
<line x1="424.9" y1="320.17" x2="428.5" y2="320.17" stroke="#000" stroke-width="1.2" stroke-linecap="butt"/>
<text x="424" y="322.77" font-size="8.7" text-anchor="end" font-weight="bold" fill="#000" stroke="#000">500</text>
<line x1="424.9" y1="281.53" x2="428.5" y2="281.53" stroke="#000" stroke-width="1.2" stroke-linecap="butt"/>
<text x="424" y="284.13" font-size="8.7" text-anchor="end" font-weight="bold" fill="#000" stroke="#000">1,000</text>
<line x1="424.9" y1="242.9" x2="428.5" y2="242.9" stroke="#000" stroke-width="1.2" stroke-linecap="butt"/>
<text x="424" y="245.5" font-size="8.7" text-anchor="end" font-weight="bold" fill="#000" stroke="#000">1,500</text>
<line x1="437.85" y1="329.9" x2="437.85" y2="327.43" stroke="#000" stroke-width="1.3" stroke-linecap="butt"/>
<line x1="435.75" y1="327.43" x2="439.95" y2="327.43" stroke="#000" stroke-width="1.3" stroke-linecap="butt"/>
<rect x="433.6" y="330.5" width="8.5" height="28.3" fill="#000" stroke="#000" stroke-width="1.2"/>
<line x1="451.4" y1="303.71" x2="451.4" y2="299.84" stroke="#000" stroke-width="1.3" stroke-linecap="butt"/>
<line x1="449.3" y1="299.84" x2="453.5" y2="299.84" stroke="#000" stroke-width="1.3" stroke-linecap="butt"/>
<rect x="447.2" y="304.31" width="8.4" height="54.49" fill="#fff" stroke="#000" stroke-width="1.2"/>
<line x1="464.6" y1="304.32" x2="464.6" y2="300.31" stroke="#000" stroke-width="1.3" stroke-linecap="butt"/>
<line x1="462.5" y1="300.31" x2="466.7" y2="300.31" stroke="#000" stroke-width="1.3" stroke-linecap="butt"/>
<rect x="460.4" y="304.92" width="8.4" height="53.88" fill="#c0f7a6" stroke="#000" stroke-width="1.2"/>
<line x1="478.5" y1="283.15" x2="478.5" y2="272.72" stroke="#000" stroke-width="1.3" stroke-linecap="butt"/>
<line x1="476.4" y1="272.72" x2="480.6" y2="272.72" stroke="#000" stroke-width="1.3" stroke-linecap="butt"/>
<rect x="474.2" y="283.75" width="8.6" height="75.05" fill="#8ef23c" stroke="#000" stroke-width="1.2"/>
<line x1="492.05" y1="262.99" x2="492.05" y2="256.65" stroke="#000" stroke-width="1.3" stroke-linecap="butt"/>
<line x1="489.95" y1="256.65" x2="494.15" y2="256.65" stroke="#000" stroke-width="1.3" stroke-linecap="butt"/>
<rect x="487.8" y="263.59" width="8.5" height="95.21" fill="#4f8a22" stroke="#000" stroke-width="1.2"/>
<line x1="505.9" y1="287.87" x2="505.9" y2="275.5" stroke="#000" stroke-width="1.3" stroke-linecap="butt"/>
<line x1="503.8" y1="275.5" x2="508" y2="275.5" stroke="#000" stroke-width="1.3" stroke-linecap="butt"/>
<rect x="501.4" y="288.47" width="9" height="70.33" fill="#0b0b8f" stroke="#000" stroke-width="1.2"/>
<polyline points="465,288.2 465,242.3 492,242.3" fill="none" stroke="#000" stroke-width="1.3" stroke-linejoin="round"/>
<text x="479.3" y="243.22" font-size="10" text-anchor="middle" font-weight="bold" fill="#444" stroke="#444">*</text>
<text x="478.3" y="267.36" font-size="8.5" text-anchor="middle" font-weight="normal" fill="#444" stroke="#444">&#8224;</text>
<text x="488" y="253.06" font-size="8.5" text-anchor="middle" font-weight="normal" fill="#444" stroke="#444">&#8224;</text>
<text x="494.6" y="253.06" font-size="8.5" text-anchor="middle" font-weight="normal" fill="#444" stroke="#444">&#8225;</text>
<text x="506.1" y="271.16" font-size="8.5" text-anchor="middle" font-weight="normal" fill="#444" stroke="#444">&#8224;</text>
</svg>
</body></html>
